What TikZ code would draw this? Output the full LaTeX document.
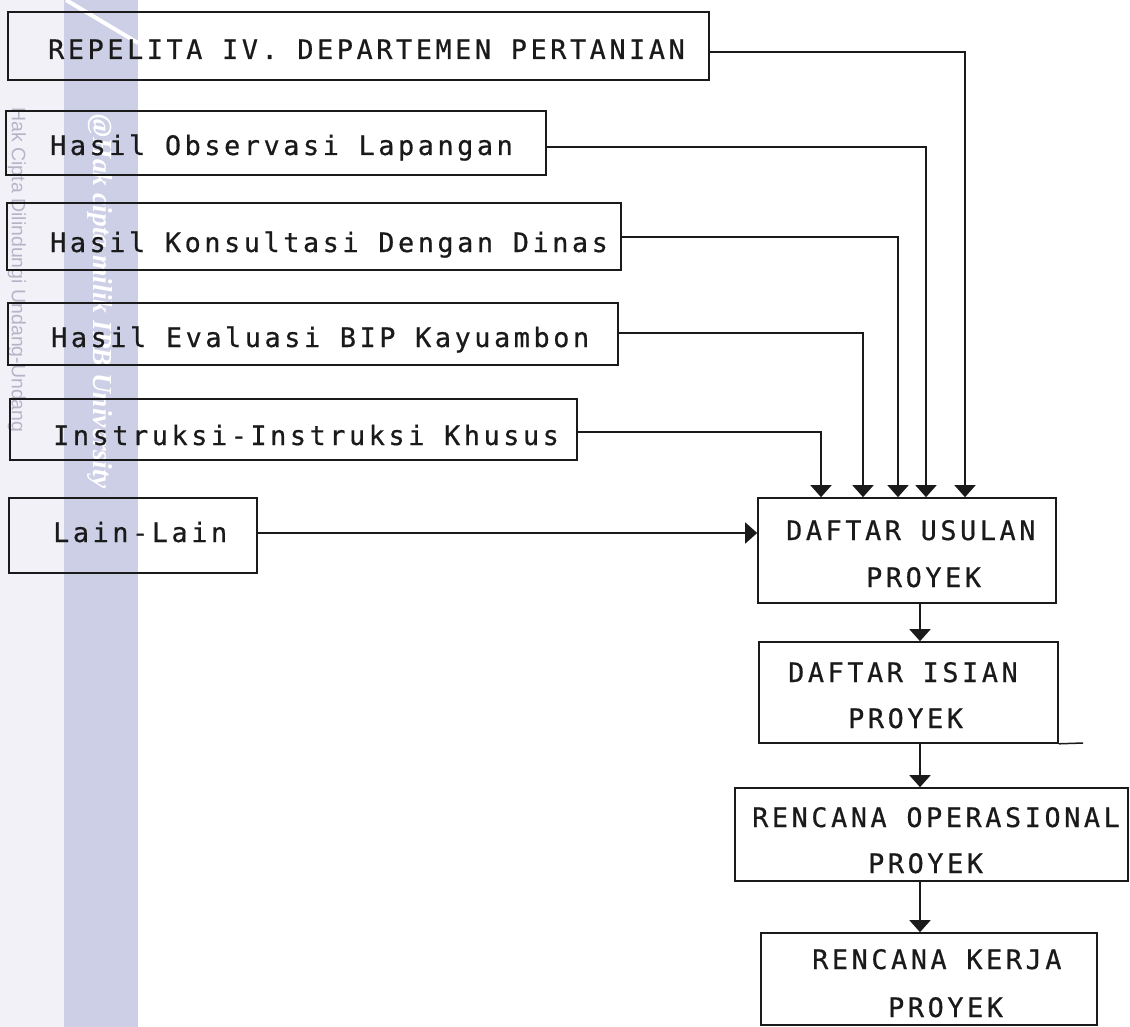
\documentclass[tikz,border=0pt]{standalone}
\usepackage{fontspec}
\usetikzlibrary{arrows.meta}
\newfontfamily\tw[LetterSpace=13.4,FakeBold=0.6]{DejaVu Sans Mono}
\newfontfamily\wmserif{Liberation Serif}
\newfontfamily\wmsans{Liberation Sans}
\definecolor{ink}{HTML}{1A1A1A}
\definecolor{bandlight}{HTML}{F2F1F8}
\definecolor{banddark}{HTML}{CCCFE6}
\definecolor{wmgrey}{HTML}{B5B5C8}
\begin{document}
\begin{tikzpicture}[x=1pt,y=-1pt,
  box/.style={draw=ink, line width=1.6pt, inner sep=0pt},
  lbl/.style={inner sep=0pt, anchor=base west, text=ink, font=\tw\fontsize{26.8}{30}\selectfont},
  conn/.style={draw=ink, line width=1.5pt, -{Triangle[width=21pt,length=12pt]}},
  line/.style={draw=ink, line width=1.5pt}]
\useasboundingbox (0,0) rectangle (1130,1027);
\fill[white] (0,0) rectangle (1130,1027);
% watermark bands
\fill[bandlight] (0,0) rectangle (64,1027);
\fill[banddark] (64,0) rectangle (138,1027);
\draw[white, line width=4pt] (66,0) -- (138,43);
\node[rotate=-90, inner sep=0pt, text=wmgrey, font=\wmsans\fontsize{19.5}{19.5}\selectfont] (wm1) at (17,270) {Hak Cipta Dilindungi Undang-Undang};
\node[rotate=-90, inner sep=0pt, text=white, font=\wmserif\bfseries\itshape\fontsize{27.5}{27.5}\selectfont] (wm2) at (100,302) {@Hak cipta milik IPB University};

% left boxes
\node[box, minimum width=701pt, minimum height=68pt] (b1) at (358.5,46) {};
\node[box, minimum width=540pt, minimum height=64pt] (b2) at (276,143) {};
\node[box, minimum width=614pt, minimum height=67pt] (b3) at (314,236.5) {};
\node[box, minimum width=610pt, minimum height=62pt] (b4) at (313,334) {};
\node[box, minimum width=567pt, minimum height=61pt] (b5) at (293.5,429.5) {};
\node[box, minimum width=248pt, minimum height=75pt] (b6) at (133,535.5) {};

\node[lbl] (t1) at (48,59) {REPELITA IV. DEPARTEMEN PERTANIAN};
\node[lbl] (t2) at (50,155) {Hasil Observasi Lapangan};
\node[lbl] (t3) at (50,252) {Hasil Konsultasi Dengan Dinas};
\node[lbl] (t4) at (51,347) {Hasil Evaluasi BIP Kayuambon};
\node[lbl] (t5) at (53,445) {Instruksi-Instruksi Khusus};
\node[lbl] (t6) at (53,542) {Lain-Lain};

% right boxes
\node[box, minimum width=298pt, minimum height=105pt] (u) at (907,550.5) {};
\node[box, minimum width=299pt, minimum height=101pt] (i) at (908.5,692.5) {};
\node[box, minimum width=393pt, minimum height=93pt] (o) at (931.5,834.5) {};
\node[box, minimum width=336pt, minimum height=92pt] (k) at (929,979) {};
\coordinate (iext) at (1083,743);
\draw[line] (i.south east) -- (iext);

\node[lbl] (u1) at (786,540) {DAFTAR USULAN};
\node[lbl] (u2) at (866,587) {PROYEK};
\node[lbl] (i1) at (788,682) {DAFTAR ISIAN};
\node[lbl] (i2) at (848,728) {PROYEK};
\node[lbl] (o1) at (752,827) {RENCANA OPERASIONAL};
\node[lbl] (o2) at (868,873) {PROYEK};
\node[lbl] (k1) at (812,969) {RENCANA KERJA};
\node[lbl] (k2) at (888,1017) {PROYEK};

% connectors into DAFTAR USULAN
\draw[conn] (b1.east |- 0,52) -| (u.north -| 965,0);
\draw[conn] (b2.east |- 0,147) -| (u.north -| 926,0);
\draw[conn] (b3.east |- 0,237) -| (u.north -| 898,0);
\draw[conn] (b4.east |- 0,333) -| (u.north -| 863,0);
\draw[conn] (b5.east |- 0,432) -| (u.north -| 821,0);
\draw[conn] (b6.east |- 0,533) -- (u.west |- 0,533);

% chain
\draw[conn] (u.south -| 920,0) -- (i.north -| 920,0);
\draw[conn] (i.south -| 920,0) -- (o.north -| 920,0);
\draw[conn] (o.south -| 920,0) -- (k.north -| 920,0);
\end{tikzpicture}
\end{document}
